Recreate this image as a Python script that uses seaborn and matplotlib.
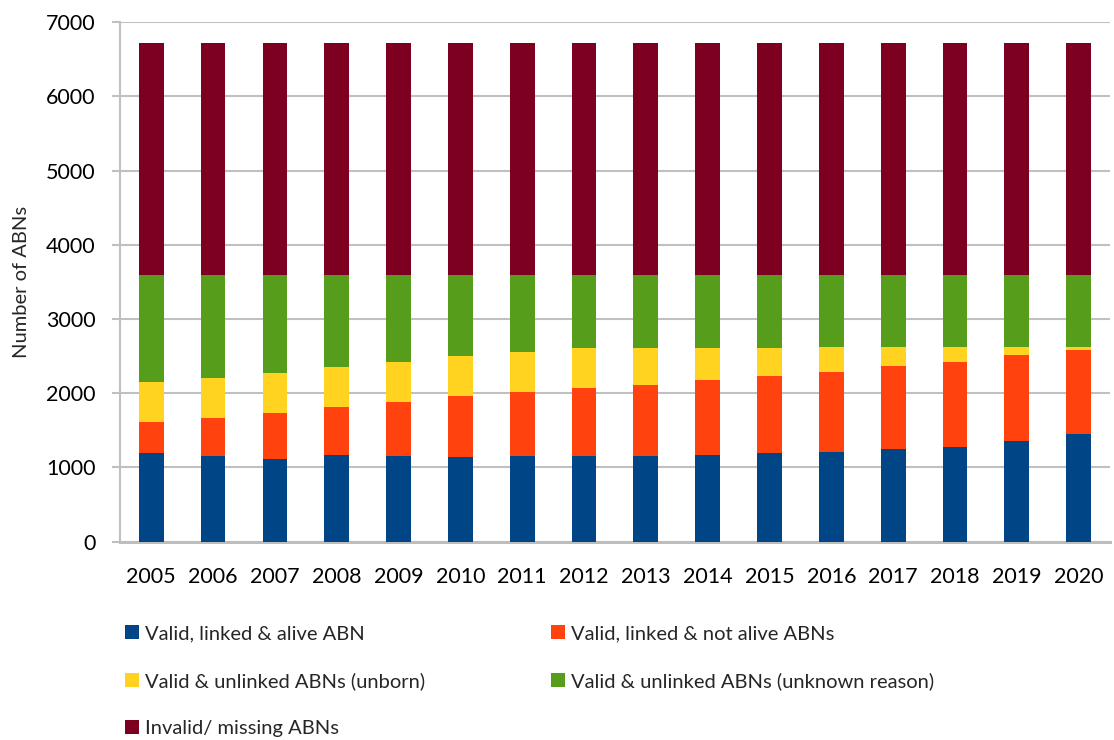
import matplotlib
matplotlib.use("Agg")
import matplotlib.pyplot as plt
from matplotlib.patches import Patch
import seaborn as sns
import pandas as pd
import numpy as np

# ABN linkage status by year
years = ["2005", "2006", "2007", "2008", "2009", "2010", "2011", "2012",
         "2013", "2014", "2015", "2016", "2017", "2018", "2019", "2020"]
linked_alive = [1190, 1158, 1117, 1171, 1149, 1144, 1153, 1158,
                1153, 1171, 1198, 1211, 1252, 1279, 1351, 1445]
linked_not_alive = [421, 507, 615, 646, 736, 817, 866, 911,
                    965, 1001, 1036, 1073, 1117, 1144, 1158, 1139]
unlinked_unborn = [538, 542, 538, 538, 533, 538, 543, 542,
                   493, 444, 382, 336, 251, 197, 116, 41]
unlinked_unknown = [1441, 1383, 1319, 1234, 1171, 1090, 1027, 978,
                    978, 973, 973, 969, 969, 969, 964, 964]
invalid_missing = [3128, 3128, 3128, 3128, 3128, 3128, 3128, 3128,
                   3128, 3128, 3128, 3128, 3128, 3128, 3128, 3128]

series_names = ["Valid, linked & alive ABN",
                "Valid, linked & not alive ABNs",
                "Valid & unlinked ABNs (unborn)",
                "Valid & unlinked ABNs (unknown reason)",
                "Invalid/ missing ABNs"]
series_values = [linked_alive, linked_not_alive, unlinked_unborn,
                 unlinked_unknown, invalid_missing]
colors = ["#004586", "#ff420e", "#ffd320", "#579d1c", "#7e0021"]

df = pd.DataFrame({"year": years})
for name, vals in zip(series_names, series_values):
    df[name] = vals
# cumulative heights so each layer sits on the ones below it
cum = df[series_names].cumsum(axis=1)
for name in series_names:
    df["cum_" + name] = cum[name]

sns.set_style("white")
plt.rcParams["font.family"] = ["Lato", "DejaVu Sans"]

fig = plt.figure(figsize=(11.14, 7.40), dpi=100)
ax = fig.add_axes([0.108, 0.268, 0.888, 0.702])

# draw tallest cumulative layer first, smaller ones on top
for name, col in reversed(list(zip(series_names, colors))):
    sns.barplot(data=df, x="year", y="cum_" + name, color=col, width=0.4,
                saturation=1, linewidth=0, ax=ax, zorder=3)

ax.set_ylim(0, 7000)
ax.set_yticks(np.arange(0, 7001, 1000))
ax.set_xlim(-0.5, len(years) - 0.5)
ax.yaxis.grid(True, color="#c0c0c0", linewidth=1.5, zorder=0)
ax.set_axisbelow(True)

for side in ["top", "right"]:
    ax.spines[side].set_visible(False)
ax.spines["left"].set_color("#c0c0c0")
ax.spines["left"].set_linewidth(1.5)
ax.spines["bottom"].set_color("#bdbdbd")
ax.spines["bottom"].set_linewidth(2.2)

ax.tick_params(axis="y", which="both", left=True, length=6, width=1.5,
               color="#c0c0c0", labelsize=15.5, pad=12, labelcolor="black")
ax.tick_params(axis="x", bottom=False, labelsize=15.5, pad=15, labelcolor="black")
ax.set_xlabel("")
ax.set_ylabel("Number of ABNs", fontsize=14.5)
ax.yaxis.set_label_coords(-0.091, 0.5)

handles = [Patch(facecolor=c, edgecolor="none") for c in colors]
order = [0, 2, 4, 1, 3]
fig.legend([handles[i] for i in order], [series_names[i] for i in order],
           loc="upper left", bbox_to_anchor=(0.1122, 0.155), ncol=2,
           frameon=False, fontsize=14.5, handlelength=0.7, handleheight=0.7,
           handletextpad=0.3, columnspacing=6.25, labelspacing=1.47,
           borderaxespad=0, borderpad=0)

fig.savefig("out.png", dpi=100)
